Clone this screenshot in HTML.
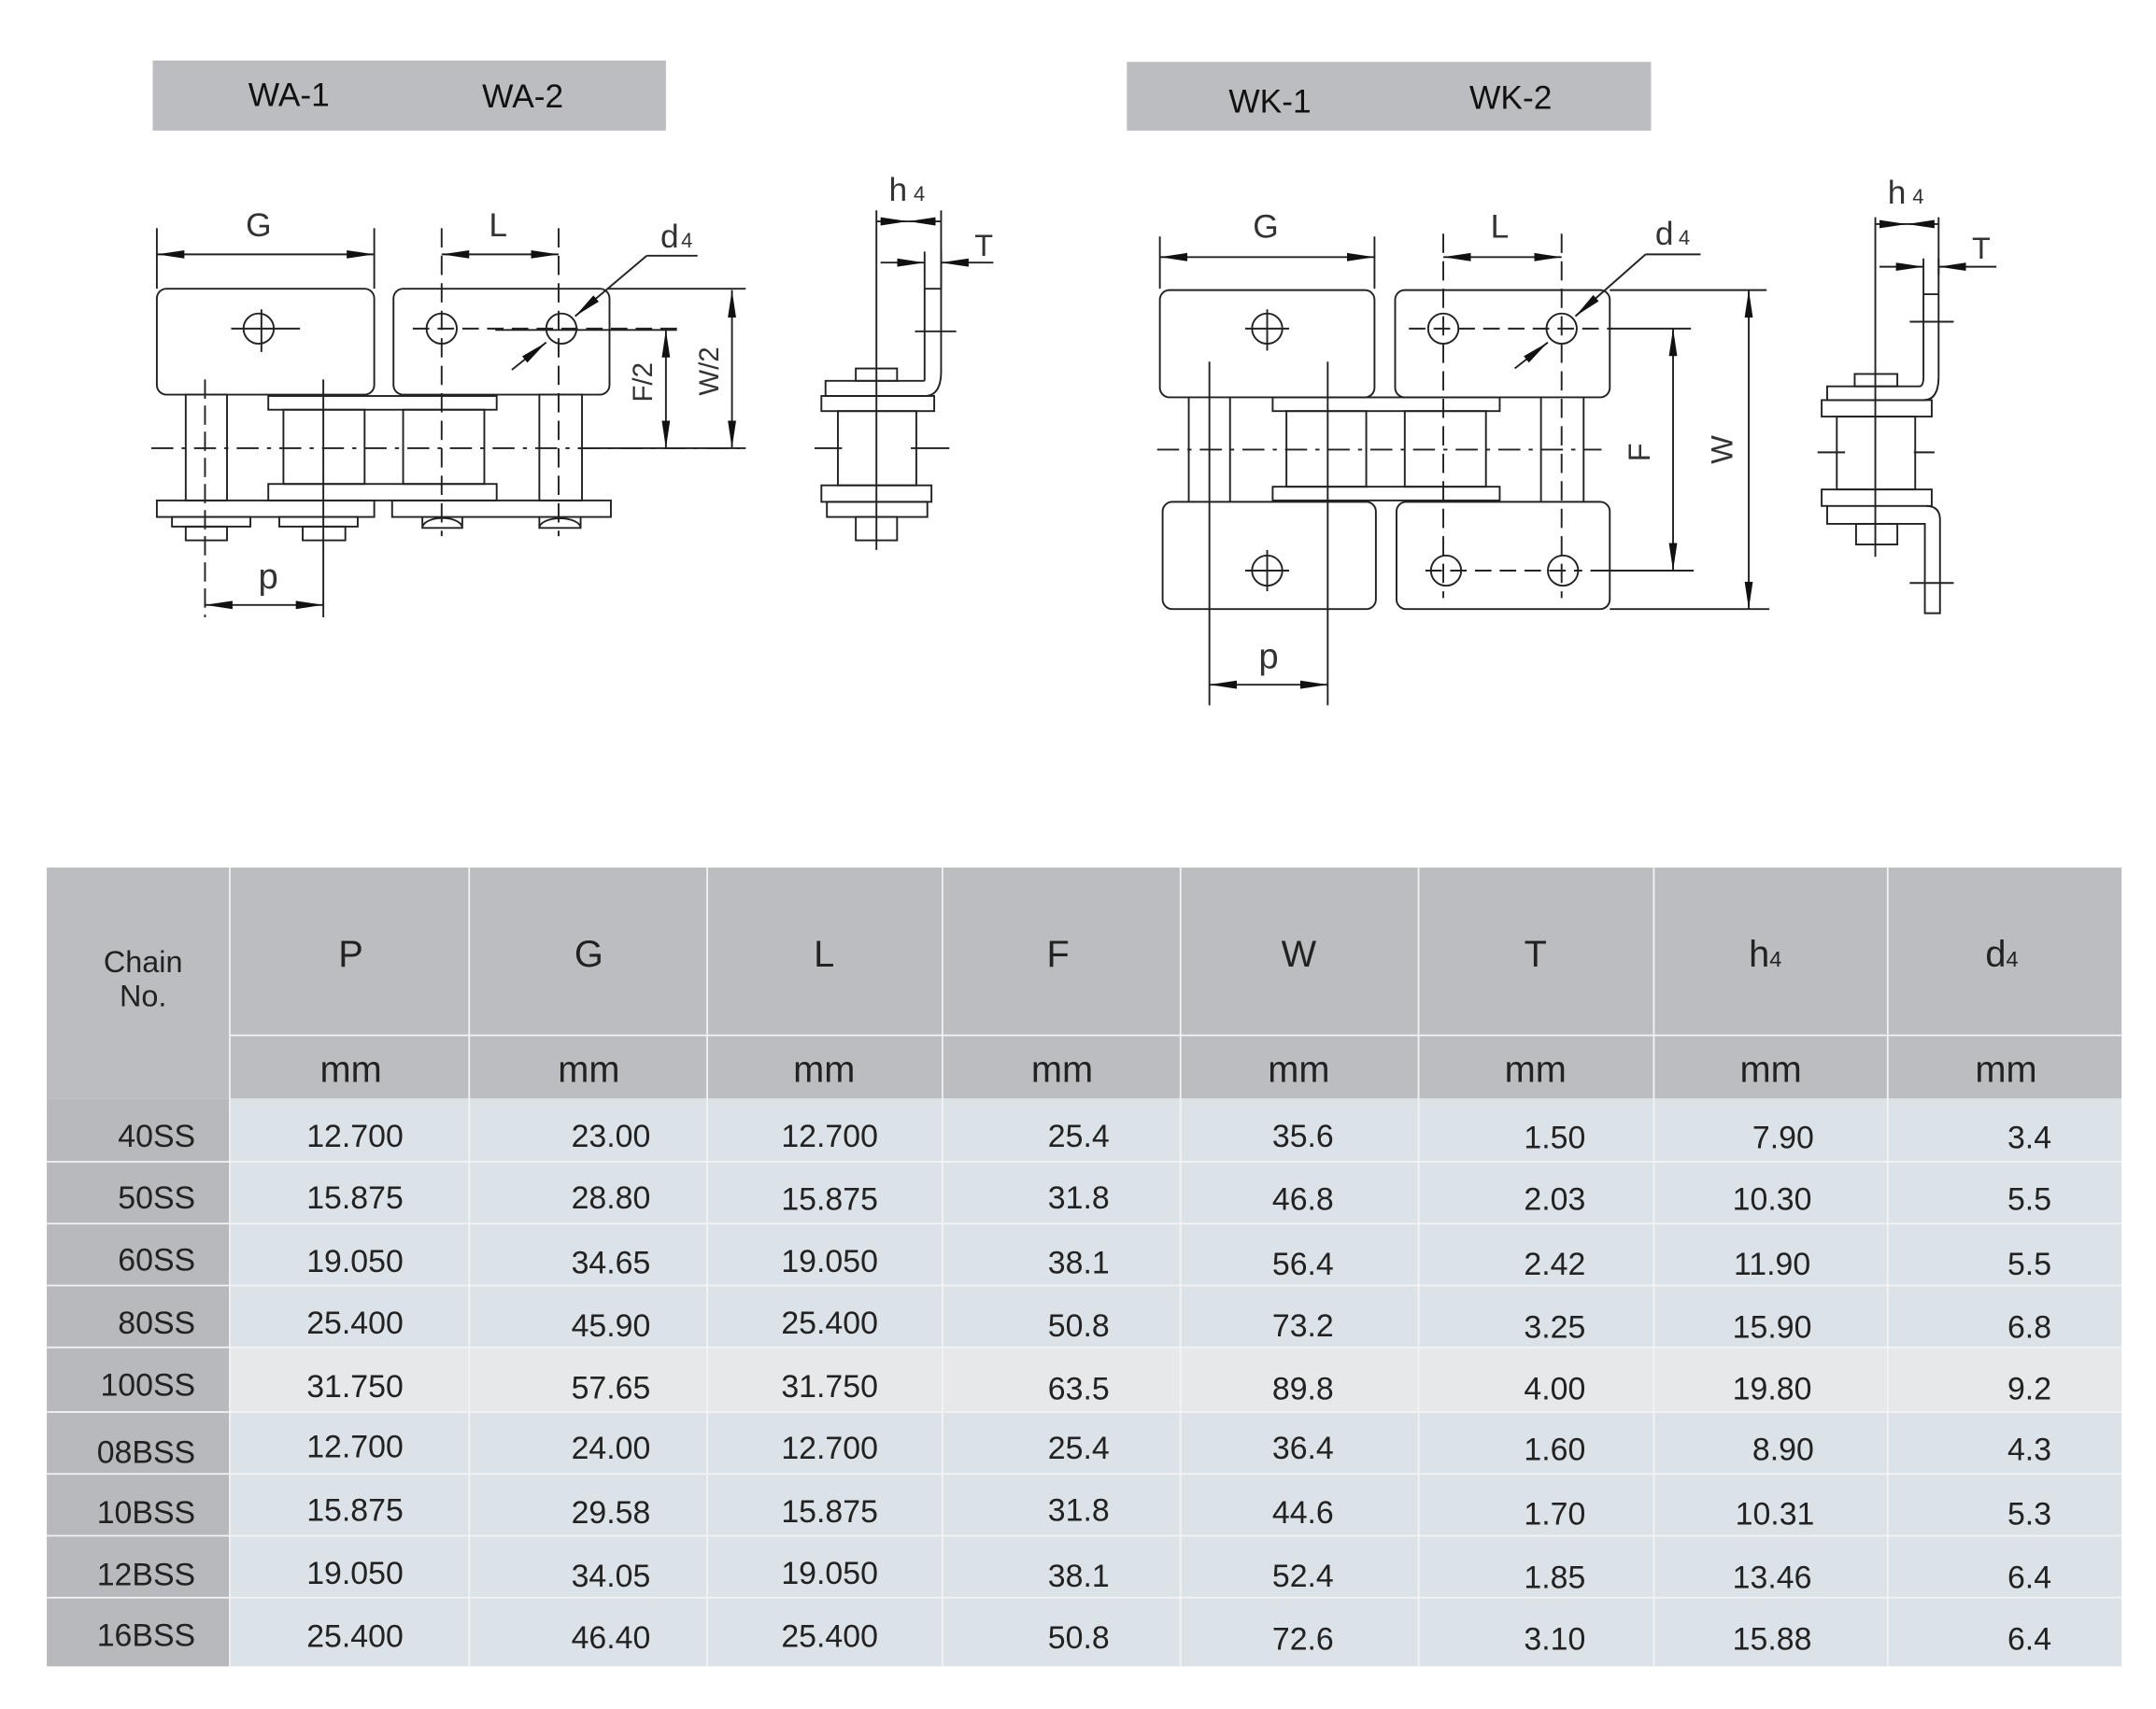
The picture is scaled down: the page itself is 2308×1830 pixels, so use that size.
<!DOCTYPE html>
<html><head><meta charset="utf-8"><style>html,body{margin:0;padding:0;background:#fff}svg{display:block}</style></head>
<body>
<svg xmlns="http://www.w3.org/2000/svg" width="2308" height="1830" viewBox="0 0 1567 1243" preserveAspectRatio="none" font-family="Liberation Sans, Arial, sans-serif">
<defs>
<marker id="a" viewBox="0 0 20 8" refX="20" refY="4" markerWidth="20" markerHeight="8" markerUnits="userSpaceOnUse" orient="auto-start-reverse"><path d="M0,1 L20,4 L0,7 z" fill="#111"/></marker>
</defs>
<rect width="1567" height="1243" fill="#fff"/>
<rect x="111" y="44" width="373" height="51" fill="#bcbdc0"/>
<text x="210" y="77" font-size="24" text-anchor="middle" fill="#111">WA-1</text>
<text x="380" y="78" font-size="24" text-anchor="middle" fill="#111">WA-2</text>
<rect x="819" y="45" width="381" height="50" fill="#bcbdc0"/>
<text x="923" y="82" font-size="24" text-anchor="middle" fill="#111">WK-1</text>
<text x="1098" y="79" font-size="24" text-anchor="middle" fill="#111">WK-2</text>

<g fill="none" stroke="#222" stroke-width="1.3">
<line x1="114" y1="166" x2="114" y2="210"/><line x1="272" y1="166" x2="272" y2="210"/>
<line x1="114" y1="185" x2="272" y2="185" marker-start="url(#a)" marker-end="url(#a)"/>
<rect x="114" y="210" width="158" height="77" rx="7"/>
<rect x="286" y="210" width="157" height="77" rx="7"/>
<circle cx="188" cy="239" r="11"/><line x1="168" y1="239" x2="218" y2="239"/><line x1="190" y1="225" x2="190" y2="256"/>
<circle cx="321" cy="239" r="11"/><circle cx="408" cy="239" r="11"/>
<line x1="300" y1="239" x2="492" y2="239" stroke-dasharray="12,6"/>
<line x1="321" y1="166" x2="321" y2="390" stroke-dasharray="14,6"/>
<line x1="406" y1="166" x2="406" y2="390" stroke-dasharray="14,6"/>
<line x1="321" y1="185" x2="406" y2="185" marker-start="url(#a)" marker-end="url(#a)"/>
<line x1="470" y1="186" x2="507" y2="186"/>
<line x1="470" y1="186" x2="418" y2="230" marker-end="url(#a)"/>
<line x1="372" y1="269" x2="397" y2="249" marker-end="url(#a)"/>
<line x1="442" y1="210" x2="542" y2="210"/>
<rect x="135" y="287" width="30" height="77"/><line x1="149" y1="276" x2="149" y2="449" stroke-dasharray="14,5"/>
<rect x="392" y="287" width="31" height="77"/>
<rect x="195" y="288" width="166" height="10"/>
<rect x="206" y="298" width="59" height="54"/>
<rect x="293" y="298" width="59" height="54"/>
<rect x="195" y="352" width="166" height="12"/>
<line x1="235" y1="276" x2="235" y2="449"/>
<line x1="110" y1="326" x2="542" y2="326" stroke-dasharray="16,6,3,6"/>
<rect x="114" y="364" width="158" height="12"/>
<rect x="285" y="364" width="159" height="12"/>
<rect x="125" y="376" width="57" height="7"/><rect x="135" y="383" width="30" height="10"/>
<rect x="203" y="376" width="57" height="7"/><rect x="220" y="383" width="31" height="10"/>
<path d="M307,384 L307,376 M336,376 L336,384 L307,384 A14,7 0 0 1 336,384"/>
<path d="M392,384 L392,376 M422,376 L422,384 L392,384 A15,7 0 0 1 422,384"/>
<line x1="149" y1="440" x2="235" y2="440" marker-start="url(#a)" marker-end="url(#a)"/>
<line x1="360" y1="240" x2="492" y2="240"/>
<line x1="484" y1="240" x2="484" y2="326" marker-start="url(#a)" marker-end="url(#a)"/>
<line x1="532" y1="211" x2="532" y2="326" marker-start="url(#a)" marker-end="url(#a)"/>
<line x1="420" y1="326" x2="542" y2="326"/>
<line x1="637" y1="153" x2="637" y2="400"/><line x1="684" y1="153" x2="684" y2="210"/>
<line x1="637" y1="161" x2="660" y2="161" marker-end="url(#a)"/><line x1="684" y1="161" x2="660" y2="161" marker-end="url(#a)"/>
<line x1="640" y1="191" x2="672" y2="191" marker-end="url(#a)"/>
<line x1="722" y1="191" x2="684" y2="191" marker-end="url(#a)"/>
<line x1="672" y1="183" x2="672" y2="277"/><line x1="684" y1="183" x2="684" y2="270"/><line x1="672" y1="210" x2="684" y2="210"/>
<line x1="665" y1="241" x2="695" y2="241"/>
<path d="M684,270 Q684,288 672,288 L600,288 L600,277 L672,277"/>
<rect x="622" y="268" width="30" height="9"/>
<rect x="597" y="288" width="82" height="11"/>
<rect x="609" y="299" width="57" height="54"/>
<rect x="597" y="353" width="80" height="12"/>
<rect x="601" y="365" width="73" height="11"/>
<rect x="622" y="376" width="30" height="17"/>
<line x1="592" y1="326" x2="690" y2="326" stroke-dasharray="20,50,30"/>

<line x1="843" y1="172" x2="843" y2="210"/><line x1="999" y1="172" x2="999" y2="210"/>
<line x1="843" y1="187" x2="999" y2="187" marker-start="url(#a)" marker-end="url(#a)"/>
<rect x="843" y="211" width="156" height="78" rx="7"/>
<rect x="1014" y="211" width="156" height="78" rx="7"/>
<circle cx="921" cy="239" r="11"/><line x1="905" y1="239" x2="937" y2="239"/><line x1="921" y1="225" x2="921" y2="255"/>
<circle cx="1049" cy="239" r="11"/><circle cx="1135" cy="239" r="11"/>
<line x1="1024" y1="239" x2="1172" y2="239" stroke-dasharray="12,6"/>
<line x1="1049" y1="170" x2="1049" y2="435" stroke-dasharray="14,6"/>
<line x1="1135" y1="170" x2="1135" y2="435" stroke-dasharray="14,6"/>
<line x1="1049" y1="187" x2="1135" y2="187" marker-start="url(#a)" marker-end="url(#a)"/>
<line x1="1196" y1="185" x2="1236" y2="185"/>
<line x1="1196" y1="185" x2="1145" y2="230" marker-end="url(#a)"/>
<line x1="1101" y1="268" x2="1125" y2="249" marker-end="url(#a)"/>
<line x1="864" y1="289" x2="864" y2="365"/><line x1="894" y1="289" x2="894" y2="365"/>
<line x1="1120" y1="289" x2="1120" y2="365"/><line x1="1151" y1="289" x2="1151" y2="365"/>
<rect x="925" y="289" width="165" height="10"/>
<rect x="935" y="299" width="58" height="55"/>
<rect x="1021" y="299" width="59" height="55"/>
<rect x="925" y="354" width="165" height="10"/>
<line x1="841" y1="327" x2="1164" y2="327" stroke-dasharray="16,6,3,6"/>
<rect x="845" y="365" width="155" height="78" rx="7"/>
<rect x="1015" y="365" width="155" height="78" rx="7"/>
<circle cx="921" cy="415" r="11"/><line x1="905" y1="415" x2="937" y2="415"/><line x1="921" y1="400" x2="921" y2="430"/>
<circle cx="1051" cy="415" r="11"/><circle cx="1136" cy="415" r="11"/>
<line x1="1036" y1="415" x2="1150" y2="415" stroke-dasharray="12,6"/>
<line x1="879" y1="263" x2="879" y2="513"/><line x1="965" y1="263" x2="965" y2="513"/>
<line x1="879" y1="498" x2="965" y2="498" marker-start="url(#a)" marker-end="url(#a)"/>
<line x1="1171" y1="239" x2="1229" y2="239"/><line x1="1156" y1="415" x2="1231" y2="415"/>
<line x1="1216" y1="239" x2="1216" y2="415" marker-start="url(#a)" marker-end="url(#a)"/>
<line x1="1170" y1="211" x2="1284" y2="211"/><line x1="1170" y1="443" x2="1286" y2="443"/>
<line x1="1271" y1="211" x2="1271" y2="443" marker-start="url(#a)" marker-end="url(#a)"/>
<line x1="1363" y1="158" x2="1363" y2="405"/><line x1="1409" y1="158" x2="1409" y2="200"/>
<line x1="1363" y1="163" x2="1386" y2="163" marker-end="url(#a)"/><line x1="1409" y1="163" x2="1386" y2="163" marker-end="url(#a)"/>
<line x1="1366" y1="194" x2="1398" y2="194" marker-end="url(#a)"/>
<line x1="1451" y1="194" x2="1409" y2="194" marker-end="url(#a)"/>
<line x1="1398" y1="188" x2="1398" y2="274"/><line x1="1409" y1="188" x2="1409" y2="274"/><line x1="1398" y1="214" x2="1409" y2="214"/>
<line x1="1388" y1="234" x2="1420" y2="234"/>
<path d="M1409,274 Q1409,291 1398,291 L1328,291 L1328,281 L1395,281 Q1398,281 1398,274"/>
<rect x="1348" y="272" width="31" height="9"/>
<rect x="1324" y="291" width="80" height="12"/>
<rect x="1335" y="303" width="57" height="53"/>
<rect x="1324" y="356" width="80" height="12"/>
<path d="M1328,368 L1328,381 L1399,381 L1399,446 L1410,446 L1410,378 Q1410,368 1400,368"/>
<rect x="1349" y="381" width="30" height="15"/>
<line x1="1388" y1="424" x2="1420" y2="424"/>
<line x1="1321" y1="329" x2="1406" y2="329" stroke-dasharray="20,50,30"/>
</g>
<g fill="#333" font-size="22">
<text x="188" y="172" text-anchor="middle" font-size="24">G</text>
<text x="362" y="172" text-anchor="middle" font-size="24">L</text>
<text x="480" y="180" font-size="24">d</text><text x="495" y="180" font-size="15">4</text>
<text x="195" y="428" text-anchor="middle" font-size="26">p</text>
<text transform="translate(474,278) rotate(-90)" text-anchor="middle" font-size="20">F/2</text>
<text transform="translate(522,270) rotate(-90)" text-anchor="middle" font-size="20">W/2</text>
<text x="646" y="146" font-size="24">h</text><text x="664" y="146" font-size="15">4</text>
<text x="715" y="186" text-anchor="middle" font-size="22">T</text>
<text x="920" y="173" text-anchor="middle" font-size="24">G</text>
<text x="1090" y="173" text-anchor="middle" font-size="24">L</text>
<text x="1203" y="178" font-size="24">d</text><text x="1220" y="178" font-size="15">4</text>
<text x="922" y="486" text-anchor="middle" font-size="26">p</text>
<text transform="translate(1199,329) rotate(-90)" text-anchor="middle" font-size="22">F</text>
<text transform="translate(1259,327) rotate(-90)" text-anchor="middle" font-size="22">W</text>
<text x="1372" y="148" font-size="24">h</text><text x="1390" y="148" font-size="15">4</text>
<text x="1440" y="188" text-anchor="middle" font-size="22">T</text>
</g>

<rect x="34" y="631" width="1508" height="168" fill="#bcbdc0"/>
<rect x="34" y="799" width="133" height="413" fill="#b8b9bc"/>
<rect x="167" y="799" width="1375" height="413" fill="#dce3e8"/>
<rect x="167" y="980" width="1375" height="47" fill="#e7e8e9"/>
<g stroke="#f2f3f4" stroke-width="1.2">
<line x1="167" y1="631" x2="167" y2="1212"/>
<line x1="341" y1="631" x2="341" y2="1212"/><line x1="514" y1="631" x2="514" y2="1212"/>
<line x1="685" y1="631" x2="685" y2="1212"/><line x1="858" y1="631" x2="858" y2="1212"/>
<line x1="1031" y1="631" x2="1031" y2="1212"/><line x1="1202" y1="631" x2="1202" y2="1212"/>
<line x1="1372" y1="631" x2="1372" y2="1212"/>
<line x1="167" y1="753" x2="1542" y2="753"/>
<line x1="34" y1="845" x2="1542" y2="845"/><line x1="34" y1="890" x2="1542" y2="890"/>
<line x1="34" y1="935" x2="1542" y2="935"/><line x1="34" y1="980" x2="1542" y2="980"/>
<line x1="34" y1="1027" x2="1542" y2="1027"/><line x1="34" y1="1072" x2="1542" y2="1072"/>
<line x1="34" y1="1117" x2="1542" y2="1117"/><line x1="34" y1="1162" x2="1542" y2="1162"/>
</g>
<g fill="#222" font-size="27" text-anchor="middle">
<text x="104" y="707" font-size="22">Chain</text><text x="104" y="732" font-size="22">No.</text>
<text x="255" y="703">P</text><text x="428" y="703">G</text><text x="599" y="703">L</text>
<text x="769" y="703">F</text><text x="944" y="703">W</text><text x="1116" y="703">T</text>
<text x="1283" y="703">h<tspan font-size="16">4</tspan></text><text x="1455" y="703">d<tspan font-size="16">4</tspan></text>
<text x="255" y="787">mm</text><text x="428" y="787">mm</text><text x="599" y="787">mm</text>
<text x="772" y="787">mm</text><text x="944" y="787">mm</text><text x="1116" y="787">mm</text>
<text x="1287" y="787">mm</text><text x="1458" y="787">mm</text>
</g>
<g fill="#222" font-size="23">
<g text-anchor="end">
<text x="142" y="834">40SS</text><text x="142" y="879">50SS</text><text x="142" y="924">60SS</text>
<text x="142" y="970">80SS</text><text x="142" y="1015">100SS</text><text x="142" y="1064">08BSS</text>
<text x="142" y="1108">10BSS</text><text x="142" y="1153">12BSS</text><text x="142" y="1197">16BSS</text>
</g>
<g text-anchor="middle">
<text x="258" y="834">12.700</text><text x="444" y="834">23.00</text><text x="603" y="834">12.700</text><text x="784" y="834">25.4</text><text x="947" y="834">35.6</text><text x="1130" y="835">1.50</text><text x="1296" y="835">7.90</text><text x="1475" y="835">3.4</text>
<text x="258" y="879">15.875</text><text x="444" y="879">28.80</text><text x="603" y="880">15.875</text><text x="784" y="879">31.8</text><text x="947" y="880">46.8</text><text x="1130" y="880">2.03</text><text x="1288" y="880">10.30</text><text x="1475" y="880">5.5</text>
<text x="258" y="925">19.050</text><text x="444" y="926">34.65</text><text x="603" y="925">19.050</text><text x="784" y="926">38.1</text><text x="947" y="927">56.4</text><text x="1130" y="927">2.42</text><text x="1288" y="927">11.90</text><text x="1475" y="927">5.5</text>
<text x="258" y="970">25.400</text><text x="444" y="972">45.90</text><text x="603" y="970">25.400</text><text x="784" y="972">50.8</text><text x="947" y="972">73.2</text><text x="1130" y="973">3.25</text><text x="1288" y="973">15.90</text><text x="1475" y="973">6.8</text>
<text x="258" y="1016">31.750</text><text x="444" y="1017">57.65</text><text x="603" y="1016">31.750</text><text x="784" y="1018">63.5</text><text x="947" y="1018">89.8</text><text x="1130" y="1018">4.00</text><text x="1288" y="1018">19.80</text><text x="1475" y="1018">9.2</text>
<text x="258" y="1060">12.700</text><text x="444" y="1061">24.00</text><text x="603" y="1061">12.700</text><text x="784" y="1061">25.4</text><text x="947" y="1061">36.4</text><text x="1130" y="1062">1.60</text><text x="1296" y="1062">8.90</text><text x="1475" y="1062">4.3</text>
<text x="258" y="1106">15.875</text><text x="444" y="1108">29.58</text><text x="603" y="1107">15.875</text><text x="784" y="1106">31.8</text><text x="947" y="1108">44.6</text><text x="1130" y="1109">1.70</text><text x="1290" y="1109">10.31</text><text x="1475" y="1109">5.3</text>
<text x="258" y="1152">19.050</text><text x="444" y="1154">34.05</text><text x="603" y="1152">19.050</text><text x="784" y="1154">38.1</text><text x="947" y="1154">52.4</text><text x="1130" y="1155">1.85</text><text x="1288" y="1155">13.46</text><text x="1475" y="1155">6.4</text>
<text x="258" y="1198">25.400</text><text x="444" y="1199">46.40</text><text x="603" y="1198">25.400</text><text x="784" y="1199">50.8</text><text x="947" y="1200">72.6</text><text x="1130" y="1200">3.10</text><text x="1288" y="1200">15.88</text><text x="1475" y="1200">6.4</text>
</g>
</g>
</svg>
</body></html>
